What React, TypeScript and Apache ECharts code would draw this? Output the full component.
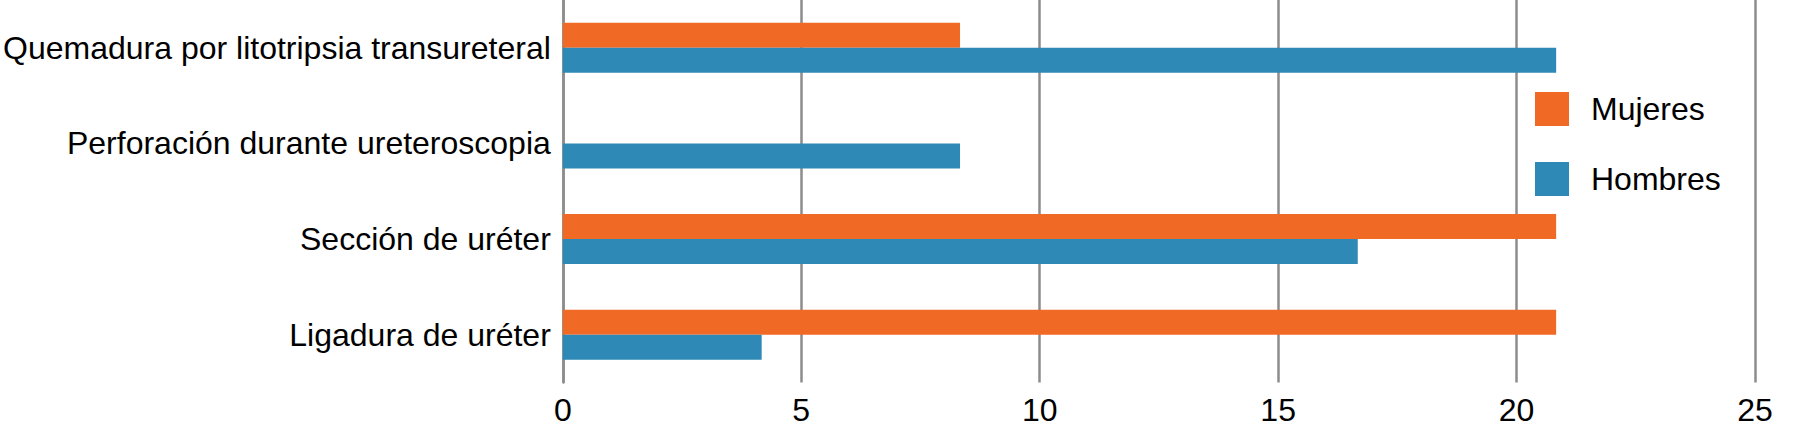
import React, { useEffect, useRef } from "react";
import * as echarts from "echarts";

const categories = [
  "Ligadura de uréter",
  "Sección de uréter",
  "Perforación durante ureteroscopia",
  "Quemadura por litotripsia transureteral",
];
const mujeres = [20.83, 20.83, 0, 8.33];
const hombres = [4.17, 16.67, 8.33, 20.83];
const xTicks = { min: 0, max: 25, interval: 5 };

const FONT = "'Liberation Sans', Arial, Helvetica, sans-serif";
const ORANGE = "#F06A26";
const BLUE = "#2E89B6";
const GRID_GRAY = "#8c8c8c";

export default function App() {
  const ref = useRef<HTMLDivElement>(null);
  useEffect(() => {
    document.body.style.margin = "0";
    const chart = echarts.init(ref.current!, null, { renderer: "svg" });
    chart.setOption({
      animation: false,
      backgroundColor: "#ffffff",
      textStyle: { fontFamily: FONT },
      grid: { left: 558, right: 45, top: 0, bottom: 56.5, containLabel: false },
      legend: {
        data: ["Mujeres", "Hombres"],
        orient: "vertical",
        left: 1530,
        top: 87,
        itemWidth: 34,
        itemHeight: 34,
        itemGap: 36,
        icon: "rect",
        textStyle: { fontSize: 32, color: "#000", fontFamily: FONT, padding: [0, 0, 0, 17] },
      },
      xAxis: {
        type: "value",
        min: xTicks.min,
        max: xTicks.max,
        interval: xTicks.interval,
        axisLine: { show: false },
        axisTick: { show: false },
        splitLine: { show: true, lineStyle: { color: GRID_GRAY, width: 2.5 } },
        axisLabel: { fontSize: 32, color: "#000", margin: 11, fontFamily: FONT },
      },
      yAxis: {
        type: "category",
        data: categories,
        axisLine: { show: true, lineStyle: { color: GRID_GRAY, width: 2.5 } },
        axisTick: { show: false },
        axisLabel: { fontSize: 32, color: "#000", margin: 12, fontFamily: FONT },
      },
      series: [
        {
          name: "Mujeres",
          type: "bar",
          data: mujeres,
          barWidth: 25,
          barGap: "0%",
          itemStyle: { color: ORANGE },
        },
        {
          name: "Hombres",
          type: "bar",
          data: hombres,
          barWidth: 25,
          barGap: "0%",
          itemStyle: { color: BLUE },
        },
      ],
    });
    return () => chart.dispose();
  }, []);
  return <div ref={ref} style={{ width: 1800, height: 439 }} />;
}
